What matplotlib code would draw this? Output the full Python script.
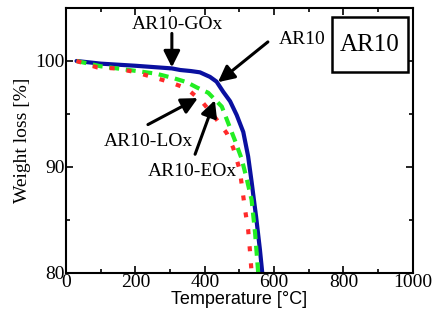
import matplotlib
matplotlib.use("Agg")
import matplotlib.pyplot as plt
from matplotlib.patches import Rectangle
from matplotlib.ticker import MultipleLocator

# data
t_ar10 = [30, 100, 200, 305, 329, 360, 386, 415, 434, 453, 473, 492, 511, 525, 535, 548, 559, 567]
w_ar10 = [100, 99.75, 99.55, 99.3, 99.15, 99.05, 98.93, 98.5, 98.05, 97.1, 96.2, 94.9, 93.3,
          91.0, 88.6, 85.3, 82.2, 79.6]

t_go = [30, 100, 193, 260, 308, 348, 377, 410, 434, 449, 468, 487, 506, 520, 535, 545, 555]
w_go = [100, 99.5, 99.1, 98.8, 98.4, 98.0, 97.5, 97.0, 96.2, 95.7, 94.1, 92.5, 90.8, 89.0,
        86.9, 83.8, 79.6]

t_lo = [30, 89, 141, 193, 248, 300, 348, 391, 429, 463, 482, 501, 516, 525, 530, 536]
w_lo = [100, 99.4, 99.3, 99.0, 98.5, 98.0, 97.4, 96.2, 94.7, 93.2, 91.8, 89.7, 86.0, 84.1,
        82.2, 79.6]

serif = "Liberation Serif"

fig = plt.figure(figsize=(4.35, 3.2), dpi=100)
ax = fig.add_axes([0.152, 0.147, 0.797, 0.828])

ax.plot(t_ar10, w_ar10, color="#0a10a0", lw=3.0, solid_capstyle="round")
ax.plot(t_go, w_go, color="#22ee22", lw=3.0, dashes=(2.4, 1.6))
ax.plot(t_lo, w_lo, color="#ff2a2a", lw=3.0, dashes=(1.2, 2.9))

ax.set_xlim(0, 1000)
ax.set_ylim(80, 105)
ax.xaxis.set_major_locator(MultipleLocator(200))
ax.xaxis.set_minor_locator(MultipleLocator(100))
ax.yaxis.set_major_locator(MultipleLocator(10))
ax.yaxis.set_minor_locator(MultipleLocator(5))
ax.tick_params(which="both", direction="in", top=True, right=True, width=1.2, pad=1)
ax.tick_params(which="major", length=5, labelsize=14)
ax.tick_params(which="minor", length=3)
for lab in ax.get_xticklabels() + ax.get_yticklabels():
    lab.set_family(serif)
for s in ax.spines.values():
    s.set_linewidth(1.5)

ax.set_xlabel("Temperature [°C]", family="Liberation Sans", fontsize=13, labelpad=0)
ax.set_ylabel("Weight loss [%]", family=serif, fontsize=14, labelpad=3)

arrow = dict(arrowstyle="-|>,head_length=0.7,head_width=0.35", color="black",
             lw=2.2, mutation_scale=14, shrinkA=0, shrinkB=0)

ax.annotate("", xy=(305, 99.4), xytext=(305, 102.6), arrowprops=arrow)
ax.text(321, 103.4, "AR10-GOx", family=serif, fontsize=14, ha="center", va="center")

ax.annotate("", xy=(438, 98.0), xytext=(582, 101.8), arrowprops=arrow)
ax.text(682, 102.0, "AR10", family=serif, fontsize=14, ha="center", va="center")

ax.annotate("", xy=(380, 96.5), xytext=(236, 94.0), arrowprops=arrow)
ax.text(236, 92.4, "AR10-LOx", family=serif, fontsize=14, ha="center", va="center")

ax.annotate("", xy=(429, 96.3), xytext=(372, 91.2), arrowprops=arrow)
ax.text(365, 89.6, "AR10-EOx", family=serif, fontsize=14, ha="center", va="center")

ax.add_patch(Rectangle((0.767, 0.758), 0.219, 0.208, transform=ax.transAxes,
                       fc="white", ec="black", lw=1.8, zorder=5))
ax.text(0.876, 0.862, "AR10", transform=ax.transAxes, family=serif, fontsize=18,
        ha="center", va="center", zorder=6)

fig.savefig("out.png", dpi=100)
